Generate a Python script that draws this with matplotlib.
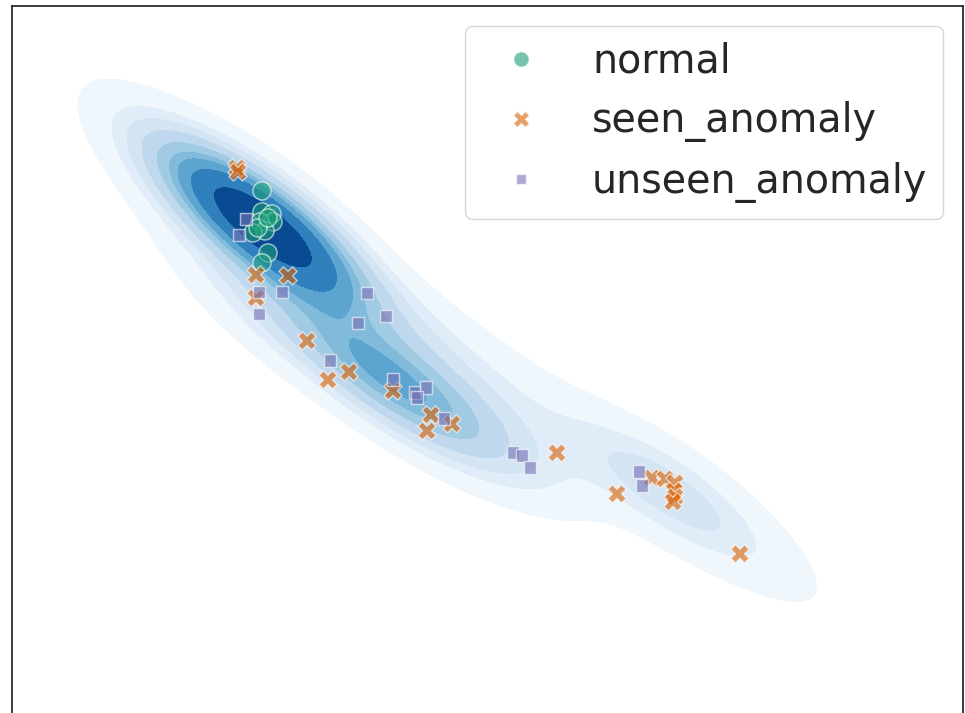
import numpy as np
import matplotlib
matplotlib.use('Agg')
import matplotlib.pyplot as plt
import seaborn as sns

# 2-D embedding of the test samples
normal_x = [-4.76, -4.76, -4.56, -4.54, -4.80, -4.70, -4.94, -4.84, -4.64, -4.64, -4.76]
normal_y = [4.18, 3.76, 3.72, 3.56, 3.56, 3.38, 3.34, 3.44, 3.64, 2.94, 2.74]

seen_x = [-5.26, -5.24, -4.88, -4.24, -4.88, -3.86, -3.44, -3.02, -2.14, -1.38, -0.96,
          -1.46, 1.14, 2.34, 3.04, 3.30, 3.50, 3.48, 3.50, 3.46, 4.80]
seen_y = [4.64, 4.56, 2.50, 2.48, 2.04, 1.18, 0.40, 0.56, 0.18, -0.30, -0.48,
          -0.62, -1.06, -1.88, -1.56, -1.58, -1.66, -1.82, -1.94, -2.04, -3.08]

unseen_x = [-5.08, -5.22, -4.82, -4.36, -2.66, -4.82, -2.84, -2.28, -3.40, -2.14,
            -1.70, -1.48, -1.66, -1.12, 0.26, 0.44, 0.60, 2.78, 2.84]
unseen_y = [3.62, 3.30, 2.16, 2.16, 2.14, 1.72, 1.54, 1.68, 0.78, 0.40,
            0.14, 0.24, 0.04, -0.38, -1.06, -1.12, -1.36, -1.44, -1.72]

# density of the full training embedding (binned centres + counts)
kde_x = [-6.00, -5.50, -5.00, -4.50, -4.00, -3.50, -6.60, -7.20, -7.70,
         -6.60, -5.80, -4.90, -4.50,
         -3.60, -3.00, -2.40, -1.80, -1.20, -0.60,
         -2.80, -2.00, -1.00, 0.00, 1.20, 0.20, 0.80,
         2.00, 2.70, 3.30, 3.90, 4.60, 5.40, 6.20]
kde_y = [4.40, 4.04, 3.68, 3.32, 2.96, 2.60, 4.90, 5.36, 5.70,
         4.00, 2.80, 2.00, 1.60,
         1.30, 0.90, 0.50, 0.14, -0.20, -0.56,
         2.00, 1.60, 1.00, 0.40, -0.40, -1.00, -1.30,
         -1.10, -1.44, -1.80, -2.16, -2.60, -3.20, -3.86]
kde_w = [3, 6, 8, 8, 6, 3, 1.5, 0.8, 0.2,
         0.5, 1, 1.5, 1.2,
         2.5, 3.5, 4, 4, 3.5, 2.5,
         1.3, 1.4, 1.3, 1.0, 0.9, 1.5, 1,
         0.9, 1.7, 2.3, 1.9, 1.2, 0.7, 0.4]

sns.set_theme(style='white')

fig = plt.figure(figsize=(9.65, 7.13), dpi=100)
ax = fig.add_axes([12 / 965, -0.06, 951 / 965, 1 - 6 / 713 + 0.06])
xlim = (-9.76, 9.26)
ylim = (-7.12, 7.88)

# gaussian kde with a kernel stretched along the main direction of the embedding
bw_along, bw_across = 1.3, 0.55
ang = np.arctan2(-0.62, 0.8)
gx, gy = np.meshgrid(np.linspace(*xlim, 400), np.linspace(*ylim, 320))
dens = np.zeros_like(gx)
for px, py, w in zip(kde_x, kde_y, kde_w):
    dx, dy = gx - px, gy - py
    along = dx * np.cos(ang) + dy * np.sin(ang)
    across = -dx * np.sin(ang) + dy * np.cos(ang)
    dens += w * np.exp(-0.5 * ((along / bw_along) ** 2 + (across / bw_across) ** 2))

# iso-proportion levels like seaborn (thresh=0.05, levels=10)
isoprop = np.linspace(0.05, 1, 10)
vals = np.sort(dens.ravel())[::-1]
cum = np.cumsum(vals) / vals.sum()
idx = np.searchsorted(cum, 1 - isoprop)
levels = np.take(vals, idx, mode='clip')
ax.contourf(gx, gy, dens, levels=levels, cmap='Blues')

xs = normal_x + seen_x + unseen_x
ys = normal_y + seen_y + unseen_y
labels = ['normal'] * len(normal_x) + ['seen_anomaly'] * len(seen_x) + ['unseen_anomaly'] * len(unseen_x)
sns.scatterplot(x=xs, y=ys, hue=labels, style=labels, palette='Dark2', alpha=0.6, s=170, ax=ax)

ax.set_xlim(*xlim)
ax.set_ylim(*ylim)
ax.set_xticks([])
ax.set_yticks([])
for sp in ax.spines.values():
    sp.set_color('#262626')

sns.move_legend(ax, 'upper right', fontsize=28.5, title=None, markerscale=0.85)

fig.savefig('out.png', dpi=100)
